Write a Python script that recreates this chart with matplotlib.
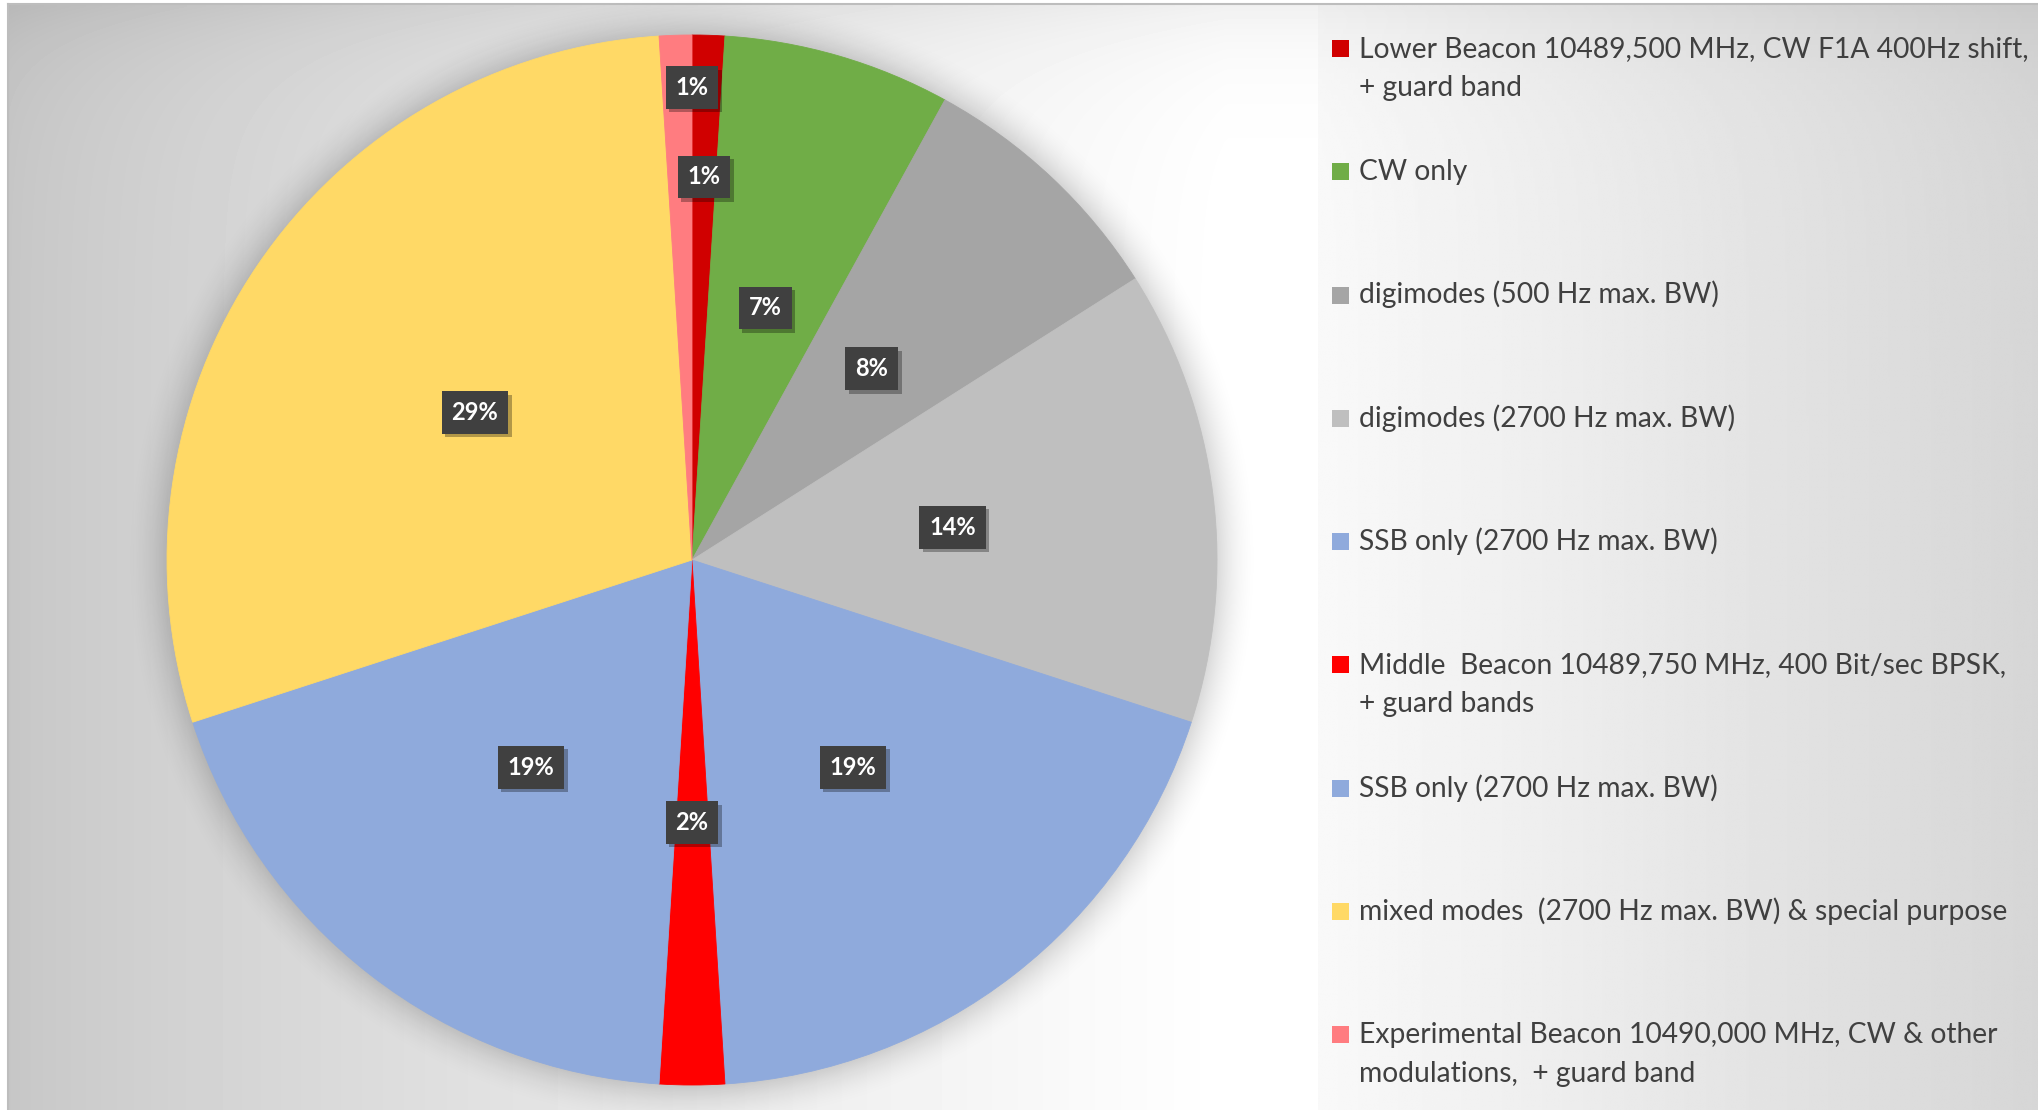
import matplotlib.pyplot as plt
import matplotlib.patheffects as pe
from matplotlib.patches import Rectangle
import numpy as np

W, H = 2038, 1110

BANDS = [
    'Lower Beacon 10489,500 MHz, CW F1A 400Hz shift,\n+ guard band',
    'CW only',
    'digimodes (500 Hz max. BW)',
    'digimodes (2700 Hz max. BW)',
    'SSB only (2700 Hz max. BW)',
    'Middle  Beacon 10489,750 MHz, 400 Bit/sec BPSK,\n+ guard bands',
    'SSB only (2700 Hz max. BW)',
    'mixed modes  (2700 Hz max. BW) & special purpose',
    'Experimental Beacon 10490,000 MHz, CW & other\nmodulations,  + guard band',
]
# segment widths in kHz (10489.500 ... 10490.000 MHz)
WIDTH_KHZ = [5, 35, 40, 70, 95, 10, 95, 145, 5]
COLORS = ['#D00000', '#70AD47', '#A5A5A5', '#BFBFBF', '#8FAADC',
          '#FF0000', '#8FAADC', '#FFD966', '#FF7C80']
# where the % label sits: fraction of radius, fraction along the wedge angle
LABEL_R = [0.73, 0.5, 0.5, 0.5, 0.5, 0.5, 0.5, 0.5, 0.9]
LABEL_T = [0.5, 0.5, 0.5, 0.5, 0.5, 0.5, 0.5, 0.5, 0.0]

FONT = 'Lato'
TEXT_COLOR = '#404040'
CX, CY, R = 692, H - 560, 525
LEGEND_X = 1318

fig = plt.figure(figsize=(W / 100, H / 100), dpi=100)
ax = fig.add_axes([0, 0, 1, 1])

# chart area background (grey -> white)
xs = np.linspace(8, LEGEND_X, 400)
ys = np.linspace(0, H - 4, 200)
gx, gy = np.meshgrid(xs, ys)
f = np.clip((gx - 8) / 1220, 0, 1) ** 0.8
v = 198 + 57 * f - 14 * np.exp(-((H - 4) - gy) / 50)
ax.imshow(np.clip(v, 0, 255) / 255, cmap='gray', vmin=0, vmax=1,
          extent=(8, LEGEND_X, 0, H - 4), origin='lower',
          interpolation='bilinear', zorder=0)

# legend background
xs = np.linspace(LEGEND_X, W, 300)
gx, gy = np.meshgrid(xs, ys)
v = 249 - 35 * (gx - LEGEND_X) / (W - LEGEND_X) - 12 * np.exp(-((H - 4) - gy) / 50)
ax.imshow(v / 255, cmap='gray', vmin=0, vmax=1,
          extent=(LEGEND_X, W, 0, H - 4), origin='lower',
          interpolation='bilinear', zorder=0)

ax.plot([8, W], [H - 4, H - 4], color='#BDBDBD', lw=1.5, zorder=1)
ax.plot([8, 8], [0, H - 4], color='#BDBDBD', lw=1.5, zorder=1)

# soft shadow around the pie
pad = 70
sx = np.linspace(CX - R - pad, CX + R + pad, 400)
sy = np.linspace(CY - R - pad, CY + R + pad, 400)
dx, dy = np.meshgrid(sx, sy)
d = np.hypot(dx - CX, dy - CY)
a = 0.16 * np.clip(1 - (d - R) / 45, 0, 1) ** 2
shadow = np.zeros(d.shape + (4,))
shadow[..., 3] = a
ax.imshow(shadow, extent=(sx[0], sx[-1], sy[0], sy[-1]), origin='lower',
          interpolation='bilinear', zorder=1)

wedges, _ = ax.pie(WIDTH_KHZ, colors=COLORS, startangle=90, counterclock=False,
                   center=(CX, CY), radius=R, frame=True,
                   wedgeprops=dict(linewidth=0.6))
for w in wedges:
    w.set_edgecolor(w.get_facecolor())
    w.set_zorder(2)

total = sum(WIDTH_KHZ)
for w, r, tf, val in zip(wedges, LABEL_R, LABEL_T, WIDTH_KHZ):
    ang = np.deg2rad(w.theta1 + tf * (w.theta2 - w.theta1))
    t = ax.text(CX + r * R * np.cos(ang), CY + r * R * np.sin(ang),
                f'{val / total * 100:.0f}%', ha='center', va='center',
                color='white', fontsize=17, fontweight='bold', family=FONT,
                zorder=5,
                bbox=dict(boxstyle='square,pad=0.42', fc='#404040', ec='none'))
    t.get_bbox_patch().set_path_effects(
        [pe.withSimplePatchShadow(offset=(2.5, -2.5), shadow_rgbFace='k', alpha=0.3)])

# legend
step = 123.25
for i, (label, color) in enumerate(zip(BANDS, COLORS)):
    base = H - (57 + i * step)
    ax.add_patch(Rectangle((1332, base), 17, 17, fc=color, ec='none', zorder=3))
    for j, line in enumerate(label.split('\n')):
        ax.text(1359, base - j * 39, line, ha='left', va='baseline',
                fontsize=20.3, color=TEXT_COLOR, family=FONT, zorder=3)

ax.set_xlim(0, W)
ax.set_ylim(0, H)
ax.set_aspect('auto')
ax.axis('off')
fig.savefig('out.png', dpi=100, facecolor='white')
